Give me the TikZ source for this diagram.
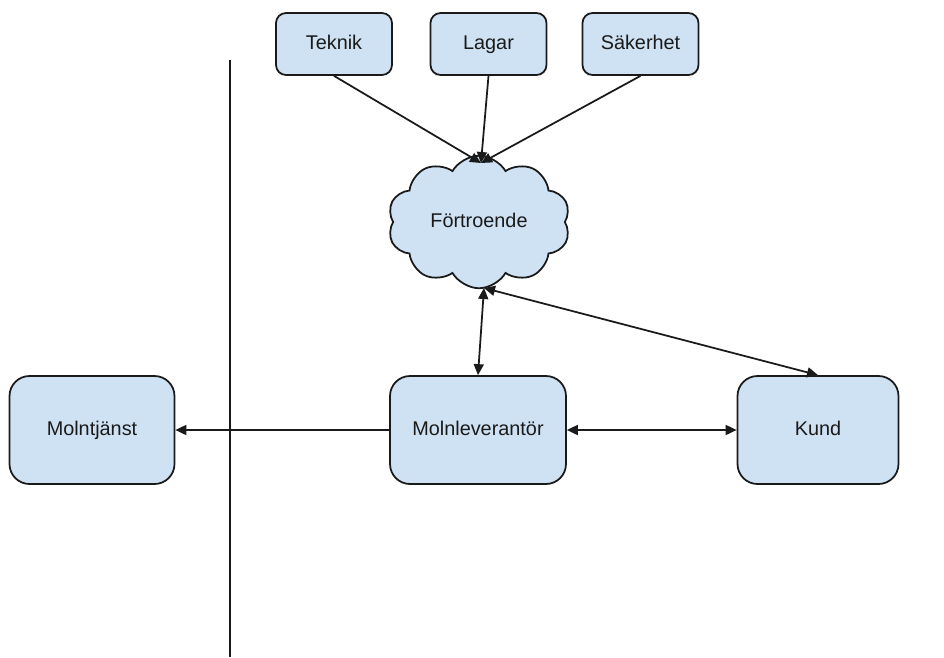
\documentclass[tikz,border=0pt]{standalone}
\usepackage{fontspec}
\setmainfont{Liberation Sans}
\usetikzlibrary{shapes.symbols,arrows.meta}
\definecolor{boxblue}{HTML}{CFE2F3}
\definecolor{edgegray}{HTML}{1A1A1A}
\begin{document}
\begin{tikzpicture}[x=0.02cm, y=-0.02cm,
      every node/.style={font=\fontsize{11.3}{13}\selectfont, text=edgegray,
                         text height=1.6ex, text depth=0.45ex},
      box/.style={draw=edgegray, fill=boxblue, line width=1pt, rounded corners=0.2cm,
                  minimum width=2.32cm, minimum height=1.24cm, align=center},
      bigbox/.style={box, rounded corners=0.4cm, minimum height=2.16cm},
      link/.style={draw=edgegray, line width=1pt, -{Triangle[length=2.2mm,width=2mm]}},
      dlink/.style={link, {Triangle[length=2.2mm,width=2mm]}-{Triangle[length=2.2mm,width=2mm]}}]
    \useasboundingbox (0,0) rectangle (944,657);
    \node[box] (tek) at (334,44)   {Teknik};
    \node[box] (lag) at (488.5,44) {Lagar};
    \node[box] (sak) at (640.5,44) {Säkerhet};
    \node[cloud, draw=edgegray, fill=boxblue, line width=1pt, cloud puffs=10,
          cloud puff arc=120, aspect=1.4, minimum width=3.65cm, minimum height=2.65cm]
          (trust) at (479,222) {Förtroende};
    \node[bigbox, minimum width=3.3cm]  (tjanst) at (92,430)  {Molntjänst};
    \node[bigbox, minimum width=3.52cm] (lev)    at (478,430) {Molnleverantör};
    \node[bigbox, minimum width=3.22cm] (kund)   at (818,430) {Kund};
    \coordinate (ctop) at (481,163);
    \coordinate (cbot) at (484,288);
    \coordinate (divtop) at (230,60);
    \coordinate (divbot) at (230,657);
    \draw[edgegray, line width=1pt] (divtop) -- (divbot);
    \draw[link] (tek.south) -- (ctop);
    \draw[link] (lag.south) -- (ctop);
    \draw[link] (sak.south) -- (ctop);
    \draw[dlink] (cbot) -- (lev.north);
    \draw[dlink] (cbot) -- (kund.north);
    \draw[link] (lev.west) -- (tjanst.east);
    \draw[dlink] (lev.east) -- (kund.west);
  \end{tikzpicture}
\end{document}
